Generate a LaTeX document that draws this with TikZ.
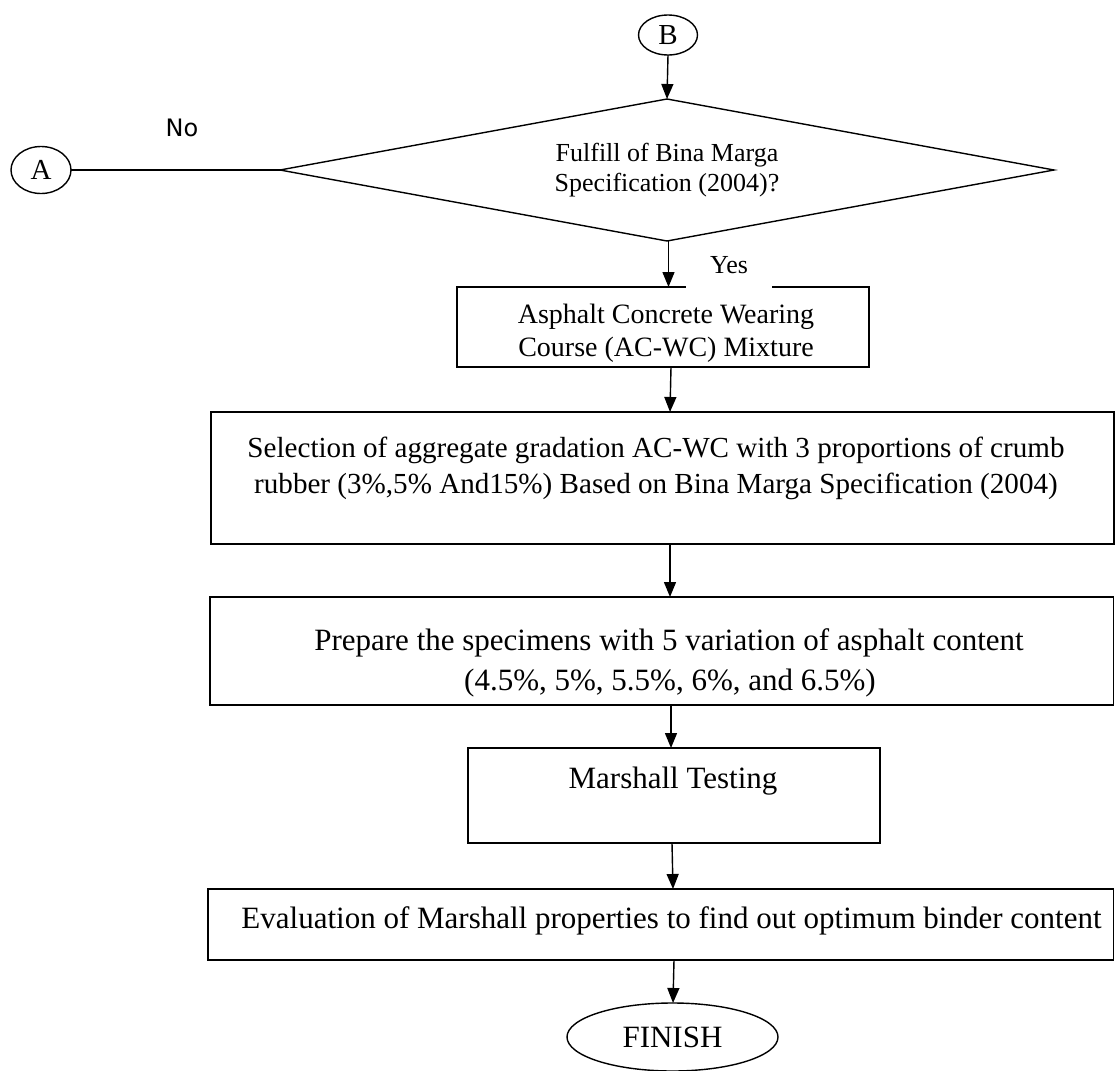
\documentclass[tikz,border=0pt]{standalone}
\usepackage{fontspec}
\setmainfont{Liberation Serif}
\newfontfamily\labelsans{DejaVu Sans}
\usetikzlibrary{shapes.geometric,arrows.meta}
\begin{document}
\begin{tikzpicture}[x=1pt,y=-1pt,
  every node/.style={inner sep=0pt,outer sep=0pt},
  boxst/.style={draw,line width=1.6pt,rectangle},
  ovalst/.style={draw,line width=1.4pt,ellipse},
  conn/.style={line width=1.4pt},
  arr/.style={line width=1.4pt,-{Triangle[length=15pt,width=12pt]}},
  txt/.style={anchor=base,font=\fontsize{31}{39}\selectfont},
  txtb/.style={anchor=base,font=\fontsize{29.1}{36}\selectfont},
  txts/.style={anchor=base,font=\fontsize{28}{33}\selectfont}]
\useasboundingbox (0,0) rectangle (1117,1071);

% connectors A and B
\node[ovalst,minimum width=59pt,minimum height=40pt,font=\fontsize{29}{33}\selectfont] (nB) at (668,35) {B};
\node[ovalst,minimum width=60pt,minimum height=47pt,font=\fontsize{29}{33}\selectfont] (nA) at (41,170) {A};

% decision
\node[draw,line width=1.4pt,diamond,aspect=5.5,minimum width=774pt,minimum height=142pt,
      align=center,font=\fontsize{26}{30}\selectfont] (dec) at (667,170)
      {Fulfill of Bina Marga\\Specification (2004)?};

\draw[arr] (nB.south) -- (dec.north);
\draw[conn] (nA.east) -- (dec.west);
\node[anchor=base,font=\labelsans\fontsize{24}{28}\selectfont] (lNo) at (182,136) {No};

% box 1
\node[boxst,minimum width=412pt,minimum height=80pt] (b1) at (663,327) {};
\node[txts] (t1a) at (666,323) {Asphalt Concrete Wearing};
\node[txts] (t1b) at (666,356) {Course (AC-WC) Mixture};
\draw[arr] ([xshift=1.5pt]dec.south) -- ([xshift=5.5pt]b1.north);
\node[fill=white,minimum width=86pt,text height=18pt,text depth=16pt,anchor=base,
      font=\fontsize{26}{30}\selectfont] (lYes) at (729,273) {Yes};

% box 2
\node[boxst,minimum width=903pt,minimum height=132pt] (b2) at (662.5,478) {};
\node[txtb] (t2a) at (656,457) {Selection of aggregate gradation AC-WC with 3 proportions of crumb};
\node[txtb] (t2b) at (656,493) {rubber (3\%,5\% And15\%) Based on Bina Marga Specification (2004)};
\draw[arr] ([xshift=8pt]b1.south) -- ([xshift=7.5pt]b2.north);

% box 3
\node[boxst,minimum width=903.5pt,minimum height=108pt] (b3) at (661.75,651) {};
\node[txt] (t3a) at (669,650) {Prepare the specimens with 5 variation of asphalt content};
\node[txt] (t3b) at (670,690) {(4.5\%, 5\%, 5.5\%, 6\%, and 6.5\%)};
\draw[arr] ([xshift=7.5pt]b2.south) -- ([xshift=8.25pt]b3.north);

% box 4
\node[boxst,minimum width=412pt,minimum height=95pt] (b4) at (674,795.5) {};
\node[txt] (t4) at (673,788) {Marshall Testing};
\draw[arr] ([xshift=9.25pt]b3.south) -- ([xshift=-3pt]b4.north);

% box 5
\node[boxst,minimum width=905.5pt,minimum height=71pt] (b5) at (660.75,924.5) {};
\node[txt] (t5) at (671.5,928) {Evaluation of Marshall properties to find out optimum binder content};
\draw[arr] ([xshift=-2pt]b4.south) -- ([xshift=12.25pt]b5.north);

% finish
\node[ovalst,minimum width=211pt,minimum height=68pt,font=\fontsize{31}{35}\selectfont] (fin) at (672.5,1037) {FINISH};
\draw[arr] ([xshift=13.25pt]b5.south) -- ([xshift=0.5pt]fin.north);
\end{tikzpicture}
\end{document}
